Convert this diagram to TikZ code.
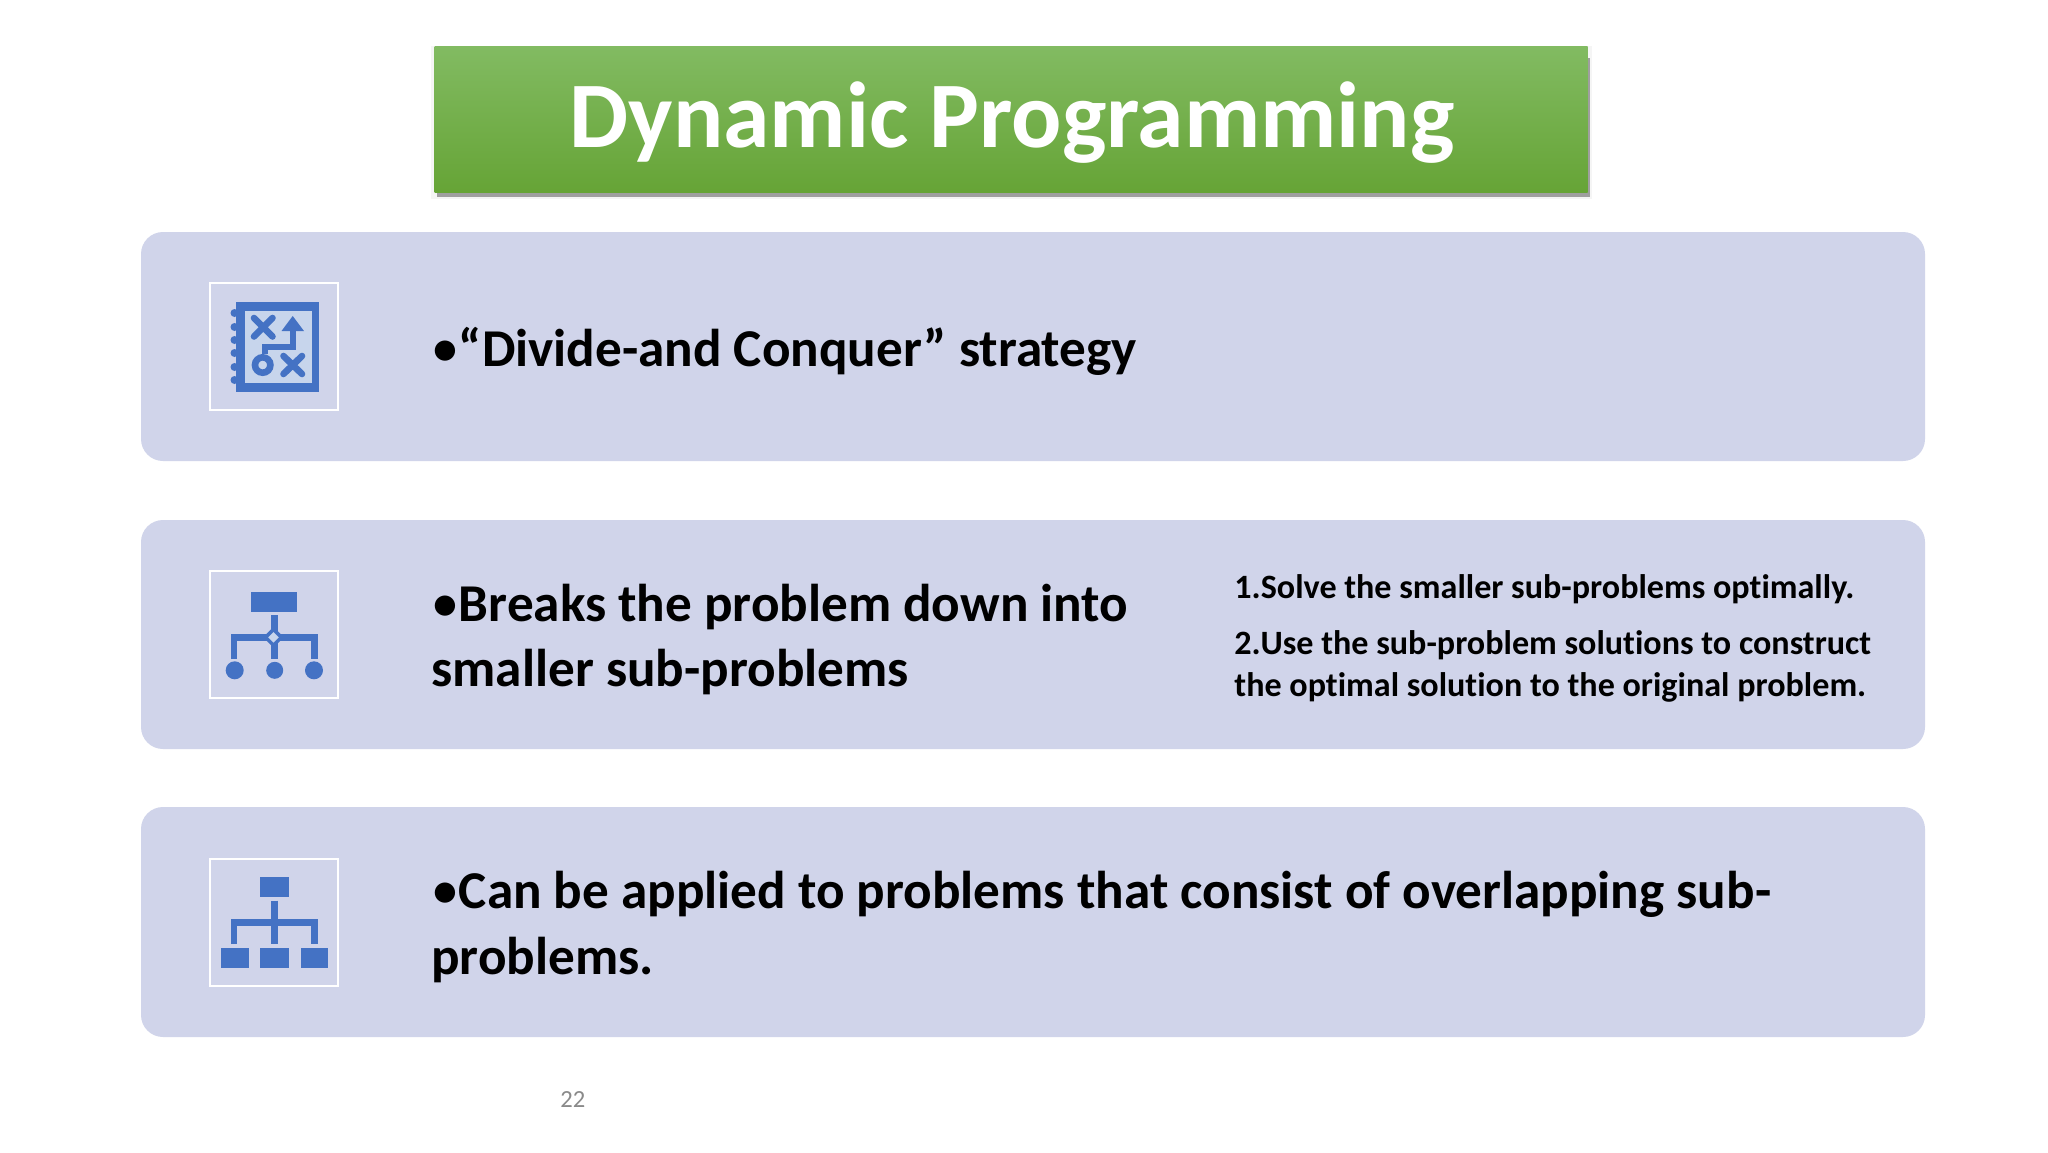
\documentclass[tikz,border=0pt]{standalone}
\usepackage{graphicx}
\usepackage{fontspec}
\setmainfont[Ligatures=CommonOff]{Carlito}
\definecolor{cardfill}{HTML}{D0D4EA}
\definecolor{iconblue}{HTML}{4472C4}
\definecolor{iconpale}{HTML}{C7D5EC}
\definecolor{numgray}{HTML}{8A8A8A}
\definecolor{titletop}{HTML}{82BB62}
\definecolor{titlebot}{HTML}{66A436}
\newcommand\bul{\sbox0{•}\makebox[\wd0][c]{\raisebox{.03em}{\scalebox{.9}{•}}}}
\tikzset{
  card/.style={fill=cardfill,rounded corners=11pt},
  iconbox/.style={draw=white,line width=1pt,fill=none},
  ink/.style={fill=iconblue,draw=none},
  wire/.style={draw=iconblue,line width=3.3pt,line cap=butt,line join=miter},
  thin wire/.style={draw=iconblue,line width=2.8pt,line cap=butt,line join=miter},
  body/.style={anchor=base west,font=\bfseries\fontsize{26.6}{32.6}\selectfont,text=black,inner sep=0pt},
  small/.style={anchor=base west,font=\bfseries\fontsize{17.05}{21}\selectfont,text=black,inner sep=0pt},
}
\begin{document}
\begin{tikzpicture}[x=0.5pt,y=-0.5pt]
\useasboundingbox (0,0) rectangle (2048,1152);
\fill[white] (0,0) rectangle (2048,1152);
% title
\fill[black,opacity=.04] (431,46) rectangle (1592,199);
\fill[black,opacity=.35] (437,58) rectangle (1589.5,197);
\shade[top color=titletop,bottom color=titlebot] (434.5,46) rectangle (1587.5,192);
\node[anchor=base,inner sep=0pt,text=white,font=\bfseries\fontsize{46.9}{52}\selectfont] (title) at (1012,147.5) {Dynamic Programming};
% cards
\fill[card] (141,232) rectangle (1925,461);
\fill[card] (141,520) rectangle (1925,749);
\fill[card] (141,807) rectangle (1925,1037);
% icon boxes
\draw[iconbox] (210,283) rectangle (338,410);
\draw[iconbox] (210,571) rectangle (338,698);
\draw[iconbox] (210,859) rectangle (338,986);
% icon 1: notebook with play diagram
\fill[ink] (236,302) rectangle (319,392);
\fill[iconpale] (245,311) rectangle (312,383);
\foreach \yy in {313,327,340,353,367,380} \fill[ink] (234.5,\yy) circle[radius=4];
\draw[wire,line cap=round] (254,318) -- (272.5,336.5) (272.5,318) -- (254,336.5);
\draw[wire,line cap=round] (283.5,356) -- (302,374) (302,356) -- (283.5,374);
\draw[wire] (262.7,365) circle[radius=7.7];
\draw[thin wire] (265,354) -- (265,347) -- (292.7,347) -- (292.7,326);
\fill[ink] (292.7,316) -- (304,331) -- (281.5,331) -- cycle;
% icon 2: flow chart with decision
\fill[ink] (250.7,591.7) rectangle (297.3,611.7);
\draw[wire] (274.7,615) -- (274.7,659);
\draw[wire] (234,659) -- (234,637.3) -- (314.7,637.3) -- (314.7,659);
\fill[ink] (273.5,627) -- (284,637.3) -- (273.5,647.6) -- (263,637.3) -- cycle;
\fill[iconpale] (273.5,632) -- (278.8,637.3) -- (273.5,642.6) -- (268.2,637.3) -- cycle;
\fill[ink] (234.7,670.3) circle[radius=9];
\fill[ink] (274.7,670.3) circle[radius=8.5];
\fill[ink] (314,670.3) circle[radius=9];
% icon 3: hierarchy
\fill[ink] (260,877.3) rectangle (288.7,896.7);
\draw[wire] (274.7,900.7) -- (274.7,944);
\draw[wire] (234,944) -- (234,922.3) -- (314.7,922.3) -- (314.7,944);
\fill[ink] (221.3,948.3) rectangle (248.7,967.7);
\fill[ink] (260,948.3) rectangle (288.7,967.7);
\fill[ink] (300.7,948.3) rectangle (328,967.7);
% texts
\node[body] (t1) at (432,366) {\bul“Divide-and Conquer” strategy};
\node[body] (t2a) at (432,621.2) {\bul Breaks the problem down into};
\node[body] (t2b) at (431,686) {smaller sub-problems};
\node[body] (t3a) at (432,908.5) {\bul Can be applied to problems that consist of overlapping sub-};
\node[body] (t3b) at (431,974) {problems.};
\node[small] (s1) at (1234,598) {1.Solve the smaller sub-problems optimally.};
\node[small] (s2a) at (1234,654) {2.Use the sub-problem solutions to construct};
\node[small] (s2b) at (1234,696) {the optimal solution to the original problem.};
\node[anchor=base west,inner sep=0pt,text=numgray,font=\fontsize{12.3}{14}\selectfont] (pg) at (560,1107) {22};
\end{tikzpicture}
\end{document}
